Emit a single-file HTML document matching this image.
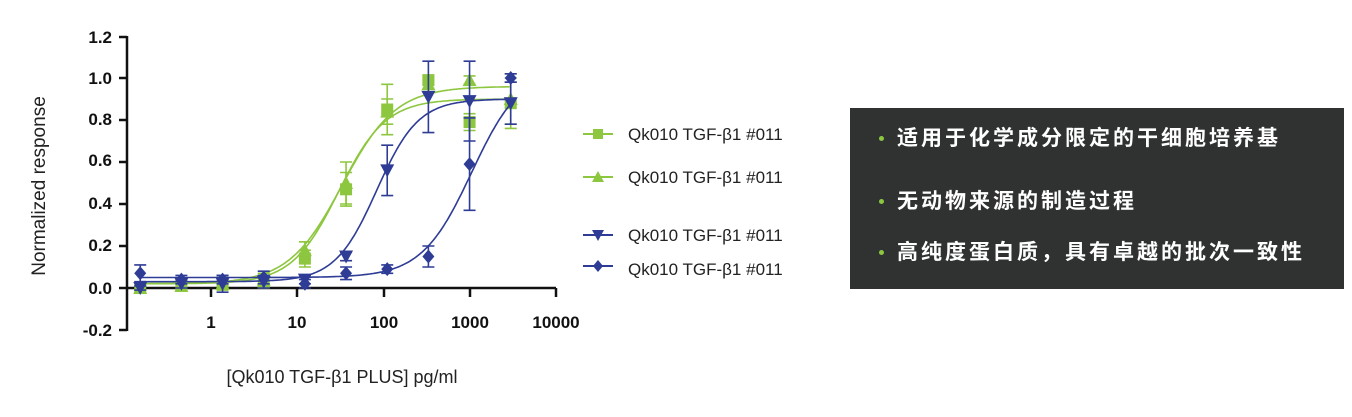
<!DOCTYPE html>
<html><head><meta charset="utf-8"><style>
html,body{margin:0;padding:0;background:#fff;width:1352px;height:417px;overflow:hidden;}
svg text{font-family:"Liberation Sans","DejaVu Sans",sans-serif;}
.box{position:absolute;left:850px;top:108px;width:494px;height:181px;background:#2f3231;}
.ln{position:absolute;left:47px;color:#fff;font-family:"Liberation Sans","Noto Sans CJK SC",sans-serif;font-size:21px;font-weight:bold;letter-spacing:3px;line-height:24px;white-space:nowrap;}
.dot{position:absolute;left:29px;width:5px;height:5px;border-radius:50%;background:#8dc63f;}
</style></head><body>
<svg id="s" width="1352" height="417" style="position:absolute;left:0;top:0">
<g stroke="#111" stroke-width="2.5" fill="none">
<line x1="127" y1="36" x2="127" y2="331"/>
<line x1="126" y1="288" x2="556" y2="288"/>
</g>
<g id="ticks" stroke="#111" stroke-width="2.5"></g>
<g font-size="17" font-weight="bold" fill="#111" text-anchor="end">
<text x="112" y="43">1.2</text><text x="112" y="84">1.0</text><text x="112" y="125">0.8</text>
<text x="112" y="166">0.6</text><text x="112" y="209">0.4</text><text x="112" y="251">0.2</text>
<text x="112" y="294">0.0</text><text x="112" y="336">-0.2</text>
</g>
<g font-size="17" font-weight="bold" fill="#111" text-anchor="middle">
<text x="211" y="328">1</text><text x="297" y="328">10</text><text x="384" y="328">100</text>
<text x="470" y="328">1000</text><text x="556" y="328">10000</text>
</g>
<text x="45" y="186" font-size="19" fill="#222" text-anchor="middle" transform="rotate(-90 45 186)">Normalized response</text>
<text x="342" y="383" font-size="18" fill="#222" text-anchor="middle">[Qk010 TGF-β1 PLUS] pg/ml</text>
<g id="plot"></g>
<g font-size="17" fill="#222">
<text x="628" y="140">Qk010 TGF-β1 #011</text>
<text x="628" y="183">Qk010 TGF-β1 #011</text>
<text x="628" y="241">Qk010 TGF-β1 #011</text>
<text x="628" y="275">Qk010 TGF-β1 #011</text>
</g>
<g id="leg"></g>
</svg>
<div class="box">
<div class="dot" style="top:28px"></div><div class="ln" style="top:19px">适用于化学成分限定的干细胞培养基</div>
<div class="dot" style="top:91px"></div><div class="ln" style="top:82px">无动物来源的制造过程</div>
<div class="dot" style="top:142px"></div><div class="ln" style="top:133px">高纯度蛋白质，具有卓越的批次一致性</div>
</div>
<script>
var NS="http://www.w3.org/2000/svg";
function el(t,a,p){var e=document.createElementNS(NS,t);for(var k in a)e.setAttribute(k,a[k]);p.appendChild(e);return e;}
var tk=document.getElementById("ticks");
[37,78,120,162,204,246,288,330].forEach(function(y){el("line",{x1:119,y1:y,x2:127,y2:y},tk);});
[211,297,384,470,556].forEach(function(x){el("line",{x1:x,y1:288,x2:x,y2:297},tk);});
function X(l){return 211+86.3*l;}function Y(v){return 288-210*v;}
var G="#8dc63f",B="#2e3c96";
var xs=[];for(var i=0;i<10;i++)xs.push(-0.82+0.477*i);
var S=[
{c:G,m:"sq",d:[0,0.01,0.02,0.03,0.14,0.47,0.85,0.99,0.79,0.88],e:[0.01,0.02,0.03,0.03,0.04,0.08,0.12,0.02,0.04,0.12],f:[0.02,0.96,1.52,1.4]},
{c:G,m:"tu",d:[0,0.01,0.02,0.04,0.18,0.50,0.84,0.97,0.99,0.90],e:[0.01,0.01,0.02,0.03,0.04,0.1,0.06,0.02,0.02,0.12],f:[0.02,0.90,1.48,1.6]},
{c:B,m:"td",d:[0,0.02,0.02,0.03,0.04,0.15,0.56,0.91,0.89,0.88],e:[0.01,0.02,0.04,0.03,0.02,0.02,0.12,0.17,0.19,0.1],f:[0.03,0.90,1.92,1.8]},
{c:B,m:"di",d:[0.07,0.04,0.04,0.05,0.02,0.07,0.09,0.15,0.59,1.0],e:[0.04,0.02,0.02,0.03,0.02,0.03,0.02,0.05,0.22,0.02],f:[0.05,1.05,3.02,1.5]}];
var P=document.getElementById("plot");
function mark(m,x,y,c,g,r){r=r||6;
 if(m=="sq")el("rect",{x:x-r,y:y-r,width:2*r,height:2*r,fill:c},g);
 else if(m=="tu")el("polygon",{points:(x)+","+(y-r-1)+" "+(x+r+1)+","+(y+r)+" "+(x-r-1)+","+(y+r),fill:c},g);
 else if(m=="td")el("polygon",{points:(x)+","+(y+r+1)+" "+(x+r+1)+","+(y-r)+" "+(x-r-1)+","+(y-r),fill:c},g);
 else el("polygon",{points:x+","+(y-r-1)+" "+(x+r)+","+y+" "+x+","+(y+r+1)+" "+(x-r)+","+y,fill:c},g);}
S.forEach(function(s){
 var f=s.f,p="";
 for(var l=-0.82;l<=3.48;l+=0.02){var v=f[0]+(f[1]-f[0])/(1+Math.pow(10,(f[2]-l)*f[3]));p+=(p?"L":"M")+X(l).toFixed(1)+","+Y(v).toFixed(1);}
 el("path",{d:p,stroke:s.c,"stroke-width":1.6,fill:"none"},P);
 s.d.forEach(function(v,i){var x=X(xs[i]);
  el("path",{d:"M"+x+","+Y(v-s.e[i])+"V"+Y(v+s.e[i])+"M"+(x-6)+","+Y(v-s.e[i])+"h12M"+(x-6)+","+Y(v+s.e[i])+"h12",stroke:s.c,"stroke-width":1.6,fill:"none"},P);
  mark(s.m,x,Y(v),s.c,P);});
});
var L=document.getElementById("leg");
[[134,G,"sq"],[177,G,"tu"],[235,B,"td"],[266,B,"di"]].forEach(function(a){
 el("line",{x1:583,y1:a[0],x2:613,y2:a[0],stroke:a[1],"stroke-width":2},L);mark(a[2],598,a[0],a[1],L,5);});
</script>
</body></html>
